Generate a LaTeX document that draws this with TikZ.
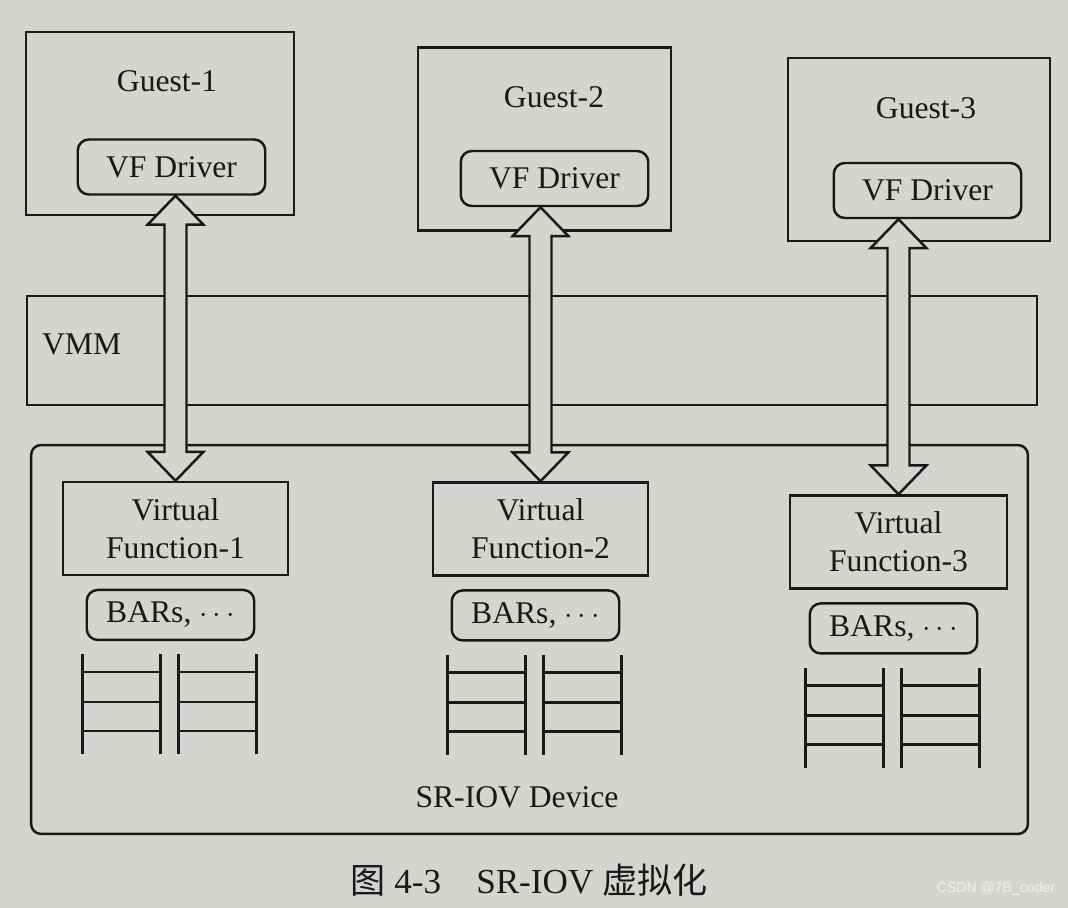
\documentclass[tikz,border=0pt]{standalone}
\usepackage{fontspec}
\setmainfont{Liberation Serif}
\newfontfamily\cjkfont{Noto Sans CJK SC}
\newfontfamily\markfont{Liberation Sans}
\usepackage{xcolor}
\usepackage{tikz}
\usetikzlibrary{positioning, calc}

\definecolor{page}{RGB}{212,212,208}
\definecolor{ink}{RGB}{25,25,25}
\definecolor{wmark}{RGB}{240,240,238}

\begin{document}
\begin{tikzpicture}[
    x=0.02cm, y=-0.02cm,
    box/.style = {rectangle, draw=ink, line width=1.4pt, text=ink, align=center, font=\fontsize{18}{21.5}\selectfont},
    guest/.style = {box, minimum height=3.66cm},
    driver/.style = {box, rounded corners=0.22cm, minimum width=3.75cm, minimum height=1.1cm},
    vfbox/.style = {box, minimum height=1.86cm},
    bars/.style = {box, rounded corners=0.22cm, minimum width=3.35cm, minimum height=1.0cm},
    lbl/.style = {text=ink, font=\fontsize{18}{21.5}\selectfont},
    rail/.style = {draw=ink, line width=1.4pt},
    bigarrow/.style = {draw=ink, line width=1.4pt, fill=page, line join=miter}
]
    % page
    \fill[page] (0,0) rectangle (1068,908);

    % Guests
    \node (g1) [guest, minimum width=5.36cm] at (160,123.5) {};
    \node (g2) [guest, minimum width=5.06cm] at (544.5,139) {};
    \node (g3) [guest, minimum width=5.24cm] at (919,149.5) {};
    \node (g1lbl) [lbl] at (167,81) {Guest-1};
    \node (g2lbl) [lbl] at (554,97) {Guest-2};
    \node (g3lbl) [lbl] at (926,108) {Guest-3};
    \node (drv1) [driver] at (171.5,167) {VF Driver};
    \node (drv2) [driver] at (554.5,178.5) {VF Driver};
    \node (drv3) [driver] at (927.5,190.5) {VF Driver};

    % VMM
    \node (vmm) [box, minimum width=20.2cm, minimum height=2.18cm] at (532,350.5) {};
    \node (vmmlbl) [lbl, anchor=west] at ([xshift=0.2cm, yshift=0.12cm]vmm.west) {VMM};

    % SR-IOV device
    \node (dev) [box, rounded corners=0.2cm, minimum width=19.94cm, minimum height=7.78cm] at (529.5,639.5) {};
    \node (devlbl) [lbl] at (517,797) {SR-IOV Device};
    \node (vf1) [vfbox, minimum width=4.5cm] at (175.5,528.5) {Virtual\\Function-1};
    \node (vf2) [vfbox, minimum width=4.3cm] at (540.5,529) {Virtual\\Function-2};
    \node (vf3) [vfbox, minimum width=4.34cm] at (898.5,542) {Virtual\\Function-3};
    \node (bars1) [bars, below=0.25cm of vf1, xshift=-0.1cm] {BARs, $\cdots$};
    \node (bars2) [bars, below=0.25cm of vf2, xshift=-0.1cm] {BARs, $\cdots$};
    \node (bars3) [bars, below=0.25cm of vf3, xshift=-0.1cm] {BARs, $\cdots$};

    % Queues
    \foreach \i in {1,2,3}
      \foreach \dx in {-3,93} {
        \draw[rail] ($(bars\i.south west)+(\dx,13)$) -- ++(0,100);
        \draw[rail] ($(bars\i.south west)+(\dx+78,13)$) -- ++(0,100);
        \foreach \dy in {31,61,90}
          \draw[rail] ($(bars\i.south west)+(\dx,\dy)$) -- ++(78,0);
      }

    % Arrows
    \foreach \i in {1,2,3}
      \draw[bigarrow] (drv\i.south -| vf\i.north) -- ++(28,29) -- ++(-17,0)
        -- ($(vf\i.north)+(11,-29)$) -- ++(17,0) -- (vf\i.north) -- ++(-28,-29)
        -- ++(17,0) -- ($(drv\i.south -| vf\i.north)+(-11,29)$) -- ++(-17,0) -- cycle;

    % Caption
    \node (cap) [text=ink, font=\fontsize{20}{24}\selectfont] at (529,880) {{\cjkfont 图}~4-3\quad SR-IOV~{\cjkfont 虚拟化}};
    \node (mark) [text=wmark, font=\markfont\fontsize{8}{10}\selectfont] at (996,889) {CSDN @7B\_coder};
\end{tikzpicture}
\end{document}
